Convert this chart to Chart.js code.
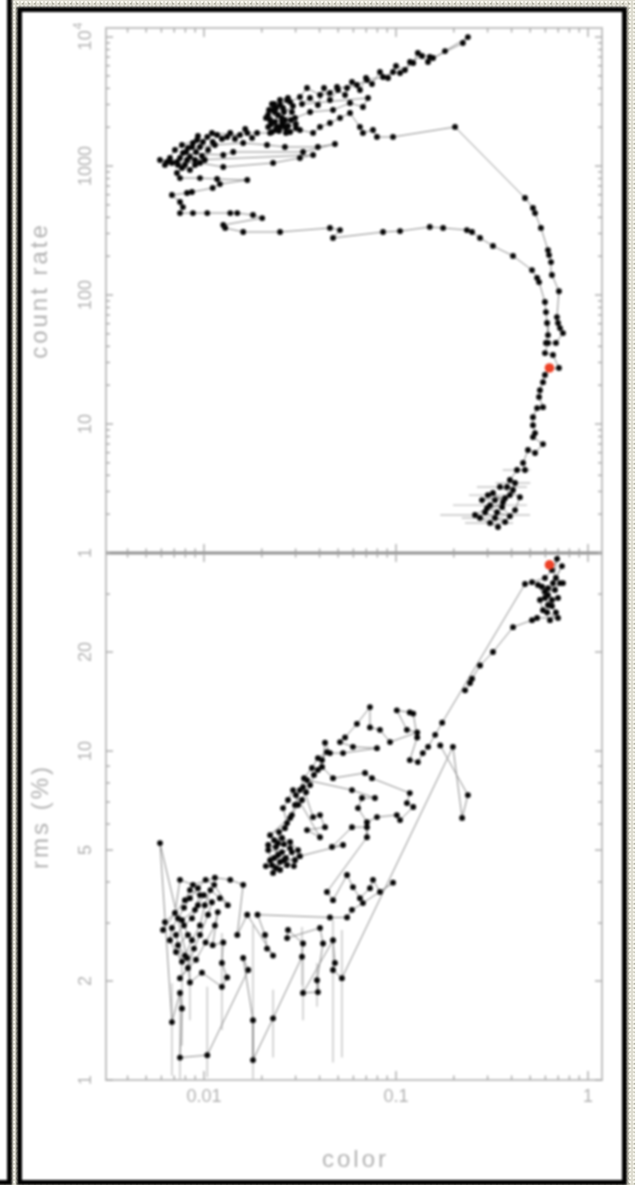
<!DOCTYPE html>
<html>
<head>
<meta charset="utf-8">
<script src="https://cdn.jsdelivr.net/npm/chart.js@4.4.0/dist/chart.umd.min.js"></script>
<style>
html, body { margin: 0; padding: 0; }
body {
  width: 635px; height: 1185px; overflow: hidden; position: relative;
  background-color: #dedcd0;
  background-image:
    radial-gradient(circle, rgba(255,255,248,0.75) 0.8px, transparent 1.5px),
    radial-gradient(circle, rgba(105,108,90,0.35) 0.8px, transparent 1.5px);
  background-size: 4px 4px, 6px 5px;
  background-position: 0 0, 2px 1px;
}
#sheet { position: absolute; left: 0; top: 0; width: 635px; height: 1185px; filter: blur(0.8px); }
#leftFrame { position: absolute; left: -6px; top: -6px; width: 13px; height: 1186px; background: #fff;
  border-right: 5px solid #000; border-bottom: 5px solid #000; }
#frame { position: absolute; left: 17px; top: 7px; width: 600px; height: 1168px; background: #fff; border: 5px solid #000; }
canvas { position: absolute; left: 0; }
#topPanel { top: 0; }
#bottomPanel { top: 540px; }
</style>
</head>
<body>
<div id="sheet">
  <div id="leftFrame"></div>
  <div id="frame"></div>
  <canvas id="topPanel" width="635" height="600"></canvas>
  <canvas id="bottomPanel" width="635" height="645"></canvas>
</div>
<script>
// ---- count rate vs colour (upper panel), in time order ----
const colorTop = [
  // rise from the faint hard state
  0.340, 0.309, 0.274, 0.258, 0.298, 0.336, 0.392, 0.357, 0.309, 0.328, 0.301, 0.370,
  0.2805, 0.320, 0.361, 0.291, 0.328, 0.370, 0.417, 0.442,
  0.348, 0.379, 0.407, 0.392, 0.417, 0.392, 0.427, 0.470,
  0.459, 0.487, 0.530, 0.583, 0.517, 0.530, 0.517, 0.517, 0.543, 0.583,
  0.556, 0.562, 0.583, 0.597, 0.627, 0.706, 0.657, 0.597, 0.619, 0.681,
  0.741, 0.715, 0.698, 0.689, 0.706, 0.649, 0.642, 0.627, 0.619, 0.569,
  0.530, 0.517, 0.470, 0.203, 0.0965, 0.0796, 0.0759, 0.0673, 0.0649, 0.0576,
  0.0511, 0.0453, 0.0402, 0.0370, 0.0316, 0.0281, 0.0249, 0.0216, 0.0221, 0.0234,
  0.0229, 0.0249, 0.0271,
  // bright intermediate knot
  0.02155, 0.02343, 0.02548, 0.02738, 0.02459, 0.02234, 0.02104, 0.02372, 0.0261, 0.02907,
  0.02738, 0.02488, 0.02315, 0.02181, 0.02579, 0.02839, 0.03014, 0.02674, 0.0240, 0.02261,
  0.0243, 0.0264, 0.0287, 0.0258, 0.0226, 0.0281, 0.0316,
  0.0344, 0.0402, 0.0453, 0.0493, 0.0556, 0.0626, 0.0706, 0.0856, 0.0965, 0.105,
  0.123, 0.130, 0.150, 0.156, 0.223, 0.237,
  0.180, 0.1468, 0.1366, 0.1183, 0.1114, 0.100, 0.0909, 0.0825, 0.0750, 0.0698,
  0.0649, 0.0590, 0.0543, 0.0499, 0.0453, 0.0422, 0.0392, 0.03565, 0.0324,
  0.0715, 0.0673, 0.0576, 0.0470, 0.0357, 0.0298, 0.0255, 0.0237, 0.0267, 0.0301,
  0.0221, 0.0189, 0.0168,
  0.0178, 0.0164, 0.0145, 0.0137, 0.0124, 0.0110,
  0.0154, 0.0132, 0.0117, 0.0104,
  // soft state
  0.00988, 0.0093, 0.00866, 0.00806, 0.00845, 0.00909, 0.00976, 0.0105, 0.0111, 0.0101,
  0.00898, 0.00816, 0.00732, 0.00665, 0.00626, 0.00706, 0.00768,
  0.0092, 0.00876, 0.00825, 0.00953, 0.0114, 0.0160, 0.0213, 0.0264, 0.0392,
  0.0481, 0.0328, 0.0142, 0.0126, 0.00777, 0.0075, 0.00723, 0.00642, 0.0059, 0.00681,
  0.00768, 0.00845, 0.00953, 0.0126, 0.0229, 0.0316, 0.0370, 0.00898, 0.00796, 0.00723,
  0.0075, 0.00953, 0.0117, 0.0168, 0.0121, 0.0111, 0.00866, 0.00816, 0.00681, 0.0075,
  0.00777, 0.0075, 0.00876, 0.0104, 0.0137, 0.0149, 0.0180, 0.0201, 0.0126, 0.0129,
  // decay back to the hard state
  0.0160, 0.0249, 0.0453, 0.0511, 0.0470, 0.0856, 0.105, 0.150, 0.176, 0.234,
  0.249, 0.274, 0.320, 0.407, 0.511, 0.543, 0.556, 0.597, 0.604, 0.612, 0.619, 0.604
];
const rateTop = [
  1.59, 1.71, 1.87, 1.97, 2.23, 2.07, 1.93, 2.27, 2.35, 2.57, 2.81, 2.66,
  2.57, 2.92, 2.48, 2.07, 1.87, 1.74, 2.15, 2.71,
  3.25, 3.25, 3.08, 2.81, 3.49, 3.68, 4.40, 4.40,
  4.99, 6.29, 5.96, 6.99, 7.92, 8.51, 9.79, 11.3, 13.3, 13.5,
  16.2, 18.3, 21.1, 24.0, 26.7, 27.2, 34.3, 35.5, 42.5, 42.5,
  50.7, 55.4, 60.7, 67.5, 107, 143, 180, 204, 223, 331,
  432, 473, 565, 2008, 1680, 1680, 1903, 1804, 2008, 2577,
  2358, 2156, 2008, 1804, 1903, 1836, 2008, 2008, 2275, 2624,
  2719, 2973, 3250,
  2487, 2195, 2358, 2044, 1869, 2118, 2358, 2818, 2624, 2920,
  3368, 3250, 3026, 2719, 2081, 2275, 1972, 1804, 2008, 1836,
  2487, 2275, 2624, 2818, 3026, 3136, 3429,
  4025, 3553, 3682, 4098, 4025, 4247, 4643, 4898, 5356, 5261,
  6289, 7517, 6999, 6876, 8986, 10000,
  7790, 6403, 7125, 6403, 5550, 5961, 4812, 5356, 4323, 4812,
  3884, 4480, 3553, 3884, 3250, 4025, 2973, 3368, 3026,
  3368, 2868, 3081, 2719, 2624, 2358, 2195, 1903, 1972, 2118,
  1804, 1804, 1804,
  1650, 1937, 1621, 1804, 1621, 1804,
  1741, 1680, 1741, 1680,
  1536, 1710, 1405, 1285, 1175, 1285, 1196, 1332, 1536, 1114,
  1019, 1114, 1019, 1154, 1019, 1332, 1456,
  1592, 1509, 1380, 1405, 1456, 1509, 1456, 1405, 1405,
  1482, 1285, 1285, 1218, 1263, 1154, 1075, 1075, 1114, 1056,
  966, 932, 1056, 983, 1056, 1154, 1218, 1114, 1019, 883,
  807, 807, 793, 779, 725, 676, 629, 618, 596, 526,
  481, 432, 432, 432, 432, 432, 417, 395, 349, 331,
  308, 308, 331, 319, 277, 308, 313, 337, 331, 319,
  308, 277, 240, 201, 156, 136, 126, 88.3, 73.8, 60.7, 48.9, 42.5
];
// horizontal colour errors on the faint observations
const errTopColor = [0.258, 0.309, 0.348, 0.379, 0.309, 0.274, 0.301, 0.417, 0.427];
const errTopRate  = [1.97, 2.35, 3.25, 3.25, 1.71, 1.87, 2.81, 3.49, 4.40];
const errTopLo    = [0.170, 0.198, 0.264, 0.301, 0.229, 0.220, 0.240, 0.330, 0.360];
const errTopHi    = [0.499, 0.481, 0.481, 0.481, 0.407, 0.360, 0.400, 0.500, 0.500];

// ---- fractional rms vs colour (lower panel), in time order ----
const colorBottom = [
  // hard state
  0.229, 0.243, 0.249, 0.274, 0.320, 0.407, 0.511, 0.543, 0.698, 0.612,
  0.619, 0.698, 0.649, 0.597, 0.673, 0.715, 0.741, 0.619, 0.576, 0.549,
  0.597, 0.649, 0.681, 0.634, 0.583, 0.562, 0.619, 0.681, 0.732, 0.657,
  0.690, 0.649, 0.597, 0.511, 0.470, 0.174, 0.160,
  // hard-intermediate arc
  0.147, 0.138, 0.130, 0.118, 0.129, 0.123, 0.118, 0.101, 0.114, 0.129,
  0.0931, 0.0825, 0.0732, 0.0732, 0.0626, 0.0543, 0.0511, 0.0597, 0.0796, 0.0530,
  0.0453, 0.0427, 0.0412, 0.0470, 0.0690, 0.0750, 0.118, 0.114, 0.123, 0.105,
  0.101, 0.0796, 0.0706, 0.0634, 0.0665, 0.0777, 0.0590, 0.0344, 0.0328, 0.0370,
  0.0402, 0.0427, 0.0344, 0.0402, 0.0291, 0.0274, 0.0258, 0.0271, 0.0221,
  0.0287, 0.0309, 0.0301, 0.0324, 0.0340, 0.0357, 0.0374, 0.0392, 0.0412, 0.0437,
  0.0392, 0.0365, 0.0332, 0.0316, 0.0298, 0.0281, 0.0264, 0.0246,
  0.0243, 0.0216, 0.0255, 0.0232, 0.0281, 0.0298, 0.0249, 0.0271, 0.0229,
  0.0216, 0.0237, 0.0261, 0.0287, 0.0267, 0.0243, 0.0221, 0.0210, 0.0237, 0.0261,
  0.0294, 0.0309, 0.0281, 0.0255, 0.0232, 0.0249, 0.0226,
  0.0316, 0.0530, 0.0464, 0.0590, 0.0706, 0.0706, 0.0437, 0.0470, 0.0556, 0.0597,
  0.0649, 0.0732, 0.0759, 0.0825, 0.0965, 0.0673, 0.0590, 0.0556, 0.0453,
  // soft state
  0.0190, 0.0208, 0.0213, 0.0229, 0.0168, 0.0149, 0.0160, 0.0137, 0.0114, 0.00876,
  0.0075, 0.00706, 0.00626, 0.00612, 0.00796, 0.00845, 0.00953, 0.00898, 0.00768, 0.00825,
  0.00732, 0.00796, 0.00866, 0.00953, 0.0101, 0.0108, 0.0121, 0.0133,
  0.0113, 0.0102, 0.0093, 0.00845, 0.00787, 0.00732, 0.00681, 0.00665, 0.00715, 0.00768,
  0.00715, 0.00787, 0.00866, 0.0093, 0.0100, 0.0110, 0.0105, 0.00953, 0.00887, 0.00825,
  0.0075, 0.00909, 0.0102, 0.0114, 0.0118,
  0.0111, 0.0126, 0.0124, 0.0132, 0.0124, 0.00976, 0.00845, 0.00816, 0.0059, 0.00681,
  0.0075, 0.00768, 0.0075, 0.0104, 0.0170, 0.0160, 0.0180, 0.0180, 0.0229, 0.0324,
  0.0328, 0.0274, 0.0271, 0.0402, 0.0417, 0.0388, 0.0392, 0.0328, 0.0470, 0.0481,
  0.0470, 0.0523,
  // return
  0.198, 0.221, 0.237, 0.170
];
const rmsBottom = [
  15.3, 16.1, 16.6, 18.2, 20.0, 23.8, 25.0, 25.4, 25.4, 26.4,
  27.8, 29.2, 28.8, 30.5, 30.9, 32.4, 32.4, 31.3, 31.6, 32.0,
  29.2, 27.6, 26.4, 25.0, 26.8, 28.8, 29.8, 33.6, 36.5, 32.4,
  38.4, 35.5, 33.6, 32.6, 32.2, 12.2, 11.2,
  10.3, 9.86, 9.26, 9.39, 11.0, 13.0, 13.1, 13.3, 11.6, 11.4,
  10.65, 11.6, 11.8, 13.6, 12.1, 11.0, 10.65, 10.3, 10.2, 9.86,
  9.86, 10.6, 8.95, 8.27, 8.58, 8.27, 7.45, 6.95, 6.76, 6.17,
  6.39, 6.30, 6.08, 6.71, 7.20, 7.20, 7.61, 8.16, 7.77, 6.30,
  6.39, 5.87, 5.75, 5.47, 7.61, 7.10, 6.71, 6.04, 5.55,
  6.39, 6.86, 7.35, 7.10, 7.50, 7.88, 8.46, 8.76, 9.39, 9.93,
  9.52, 8.88, 8.27, 7.61, 6.86, 6.26, 5.83, 5.67,
  5.25, 5.00, 4.93, 4.73, 5.07, 4.66, 4.60, 4.50, 4.26,
  5.18, 5.11, 5.21, 4.93, 4.73, 4.83, 4.66, 4.47, 4.41, 4.66,
  4.47, 5.00, 5.29, 5.44, 5.36, 4.35, 4.50,
  4.79, 5.18, 5.11, 5.87, 5.87, 5.47, 3.73, 3.52, 4.20, 3.86,
  3.57, 3.83, 4.06, 3.73, 3.98, 3.45, 3.29, 3.12, 3.12,
  3.18, 2.76, 2.51, 2.39, 3.18, 2.76, 3.92, 4.06, 4.12, 3.92,
  4.06, 3.22, 3.02, 2.86, 3.52, 3.78, 3.65, 3.29, 3.06, 2.76,
  2.57, 2.39, 2.66, 2.95, 3.40, 3.78, 3.57, 3.40,
  3.92, 4.06, 3.83, 3.57, 3.34, 3.10, 2.90, 2.66, 2.45, 2.29,
  2.76, 2.95, 3.10, 3.40, 3.65, 3.47, 3.18, 2.76, 2.51, 2.19,
  2.04, 2.32, 2.62, 2.95, 3.24,
  2.57, 2.62, 2.27, 2.05, 1.92, 2.12, 1.98, 2.35, 5.25, 1.50,
  1.84, 1.65, 1.17, 1.19, 2.16, 2.35, 1.52, 1.15, 1.54, 2.37,
  2.60, 2.86, 2.70, 2.90, 2.60, 2.01, 1.85, 1.84, 2.66, 2.27,
  2.16, 2.04,
  10.3, 6.26, 7.35, 10.4
];
// vertical rms errors on the soft-state observations
const errBotColor = [0.00681, 0.0075, 0.00768, 0.0104, 0.0180, 0.0180, 0.0229, 0.0328, 0.0324, 0.0470, 0.0523, 0.0388, 0.0124, 0.00845];
const errBotLo    = [1.03, 1.0, 1.27, 1.02, 1.0, 1.01, 1.17, 1.52, 1.94, 1.13, 1.17, 1.67, 1.42, 1.52];
const errBotHi    = [1.97, 1.88, 2.32, 1.92, 2.08, 2.96, 1.88, 2.32, 2.92, 3.06, 2.86, 2.27, 2.80, 2.48];

// highlighted observation
const markColor = 0.63;
const markRate = 27.2;
const markRms = 36.8;

// ---- axes ----
const colorRange = [0.003088, 1.183];
const rateRange = [1, 11750];
const rmsRange = [1, 40];
const colorMajor = [0.01, 0.1, 1];
const colorMinor = [0.004, 0.005, 0.006, 0.007, 0.008, 0.009, 0.02, 0.03, 0.04, 0.05, 0.06, 0.07, 0.08, 0.09,
                    0.2, 0.3, 0.4, 0.5, 0.6, 0.7, 0.8, 0.9];
const colorLabels = ['0.01', '0.1', '1'];
const rateMajor = [1, 10, 100, 1000, 10000];
const rateMinor = [2, 3, 4, 5, 6, 7, 8, 9, 20, 30, 40, 50, 60, 70, 80, 90,
                   200, 300, 400, 500, 600, 700, 800, 900, 2000, 3000, 4000, 5000, 6000, 7000, 8000, 9000];
const rateLabels = ['1', '10', '100', '1000', '10^4'];
const rmsMajor = [1, 2, 5, 10, 20];
const rmsMinor = [3, 4, 6, 7, 8, 9, 30, 40];
const rmsLabels = ['1', '2', '5', '10', '20'];

const FONT = '"Liberation Sans", Arial, Helvetica, sans-serif';
const LABEL = '#b2b2b2';
const AXIS = '#c2c2c2';
const TICK = '#a9a9a9';

function toPoints(xs, ys) { return xs.map((x, i) => ({ x: x, y: ys[i] })); }
function horizontalBars(c, y, lo, hi) {
  const out = [];
  c.forEach((v, i) => { out.push({ x: lo[i], y: y[i] }, { x: hi[i], y: y[i] }, { x: v, y: null }); });
  return out;
}
function verticalBars(c, lo, hi) {
  const out = [];
  c.forEach((v, i) => { out.push({ x: v, y: lo[i] }, { x: v, y: hi[i] }, { x: v, y: null }); });
  return out;
}

function makeFrame(d) {
  return {
    id: 'frame',
    beforeDatasetsDraw(chart) {
      const { ctx, chartArea: a, scales: { x, y } } = chart;
      ctx.save();
      // box
      ctx.strokeStyle = AXIS; ctx.lineWidth = 2;
      ctx.strokeRect(a.left, a.top, a.right - a.left, a.bottom - a.top);
      // shared edge between panels is heavier
      const ey = d.shared === 'bottom' ? a.bottom : a.top;
      ctx.strokeStyle = '#8e8e8e'; ctx.lineWidth = 2.5;
      ctx.beginPath(); ctx.moveTo(a.left, ey); ctx.lineTo(a.right, ey); ctx.stroke();
      // inward ticks on all four sides
      ctx.strokeStyle = TICK; ctx.lineWidth = 1.4;
      const seg = (x1, y1, x2, y2) => { ctx.beginPath(); ctx.moveTo(x1, y1); ctx.lineTo(x2, y2); ctx.stroke(); };
      const xt = (v, len) => { const p = x.getPixelForValue(v); seg(p, a.top, p, a.top + len); seg(p, a.bottom, p, a.bottom - len); };
      const yt = (v, len) => { const p = y.getPixelForValue(v); seg(a.left, p, a.left + len, p); seg(a.right, p, a.right - len, p); };
      colorMajor.forEach(v => xt(v, 9));
      colorMinor.forEach(v => xt(v, 4.5));
      d.yMajor.forEach(v => yt(v, 7));
      d.yMinor.forEach(v => yt(v, 4));

      // rotated y tick labels
      ctx.fillStyle = LABEL;
      ctx.textBaseline = 'middle';
      d.yMajor.forEach((v, i) => {
        const p = y.getPixelForValue(v);
        const txt = d.yLabels[i];
        ctx.save();
        ctx.translate(86, p);
        ctx.rotate(-Math.PI / 2);
        if (txt.indexOf('^') > 0) {
          const [base, exp] = txt.split('^');
          ctx.font = '18px ' + FONT;
          const w1 = ctx.measureText(base).width;
          ctx.font = '12px ' + FONT;
          const w2 = ctx.measureText(exp).width;
          const s = -(w1 + w2) / 2;
          ctx.textAlign = 'left';
          ctx.font = '18px ' + FONT;
          ctx.fillText(base, s, 0);
          ctx.font = '12px ' + FONT;
          ctx.fillText(exp, s + w1 + 1, -7);
        } else {
          ctx.font = '18px ' + FONT;
          ctx.textAlign = 'center';
          ctx.fillText(txt, 0, 0);
        }
        ctx.restore();
      });
      // rotated axis title
      ctx.save();
      ctx.font = '24px ' + FONT;
      ctx.letterSpacing = '3px';
      ctx.textAlign = 'center';
      ctx.translate(d.titleX, (a.top + a.bottom) / 2);
      ctx.rotate(-Math.PI / 2);
      ctx.fillText(d.yTitle, 0, 0);
      ctx.restore();

      if (d.xTitle) {
        ctx.font = '18px ' + FONT;
        ctx.textAlign = 'center';
        colorMajor.forEach((v, i) => {
          ctx.fillText(colorLabels[i], x.getPixelForValue(v), a.bottom + 17);
        });
        ctx.save();
        ctx.font = '24px ' + FONT;
        ctx.letterSpacing = '3px';
        ctx.textAlign = 'center';
        ctx.fillText(d.xTitle, (a.left + a.right) / 2 + 1.5, a.bottom + 80);
        ctx.restore();
      }
      ctx.restore();
    }
  };
}

function panel(id, pad, yRange, datasets, decor) {
  return new Chart(document.getElementById(id), {
    type: 'scatter',
    data: { datasets: datasets },
    options: {
      responsive: false,
      animation: false,
      devicePixelRatio: 1,
      events: [],
      layout: { padding: pad },
      plugins: { legend: { display: false }, tooltip: { enabled: false } },
      scales: {
        x: { type: 'logarithmic', min: colorRange[0], max: colorRange[1], display: false },
        y: { type: 'logarithmic', min: yRange[0], max: yRange[1], display: false }
      }
    },
    plugins: [makeFrame(decor)]
  });
}

const pathStyle = {
  showLine: true, borderColor: '#8a8a8a', borderWidth: 1,
  pointRadius: 2.9, pointBackgroundColor: '#050505', pointBorderWidth: 0, order: 1
};
const barStyle = { showLine: true, borderColor: '#c4c4c4', borderWidth: 1.4, pointRadius: 0, order: 2 };
const markStyle = { pointRadius: 4.8, pointBackgroundColor: '#ee4126', pointBorderWidth: 0, order: 0 };

panel('topPanel', { left: 106, right: 33, top: 28, bottom: 47 }, rateRange, [
  Object.assign({ data: toPoints(colorTop, rateTop) }, pathStyle),
  Object.assign({ data: horizontalBars(errTopColor, errTopRate, errTopLo, errTopHi) }, barStyle),
  Object.assign({ data: [{ x: markColor, y: markRate }] }, markStyle)
], { yMajor: rateMajor, yMinor: rateMinor, yLabels: rateLabels, yTitle: 'count rate', titleX: 40, shared: 'bottom' });

panel('bottomPanel', { left: 106, right: 33, top: 13, bottom: 105 }, rmsRange, [
  Object.assign({ data: toPoints(colorBottom, rmsBottom) }, pathStyle),
  Object.assign({ data: verticalBars(errBotColor, errBotLo, errBotHi) }, barStyle),
  Object.assign({ data: [{ x: markColor, y: markRms }] }, markStyle)
], { yMajor: rmsMajor, yMinor: rmsMinor, yLabels: rmsLabels, yTitle: 'rms (%)', titleX: 41, shared: 'top', xTitle: 'color' });
</script>
</body>
</html>
